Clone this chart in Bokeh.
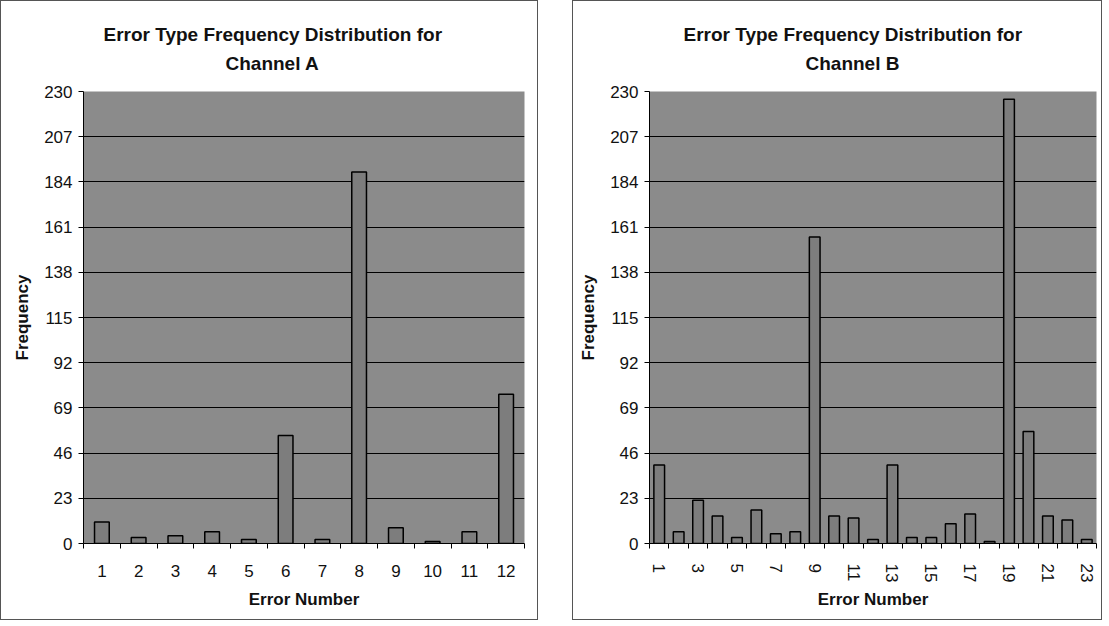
from bokeh.plotting import figure
from bokeh.models import FixedTicker, Title, Range1d
from bokeh.layouts import row
from bokeh.embed import file_html
from bokeh.resources import INLINE

# ---- data ----
title_line1 = "Error Type Frequency Distribution for"
title_a = "Channel A"
title_b = "Channel B"
x_label = "Error Number"
y_label = "Frequency"

errors_a = [1, 2, 3, 4, 5, 6, 7, 8, 9, 10, 11, 12]
freq_a = [11, 3, 4, 6, 2, 55, 2, 189, 8, 1, 6, 76]

errors_b = [1, 2, 3, 4, 5, 6, 7, 8, 9, 10, 11, 12, 13, 14, 15, 16, 17, 18, 19, 20, 21, 22, 23]
freq_b = [40, 6, 22, 14, 3, 17, 5, 6, 156, 14, 13, 2, 40, 3, 3, 10, 15, 1, 226, 57, 14, 12, 2]

labels_a = [1, 2, 3, 4, 5, 6, 7, 8, 9, 10, 11, 12]
labels_b = [1, 3, 5, 7, 9, 11, 13, 15, 17, 19, 21, 23]
y_ticks = [0, 23, 46, 69, 92, 115, 138, 161, 184, 207, 230]

FONT = "Liberation Sans"
PLOT_BG = "#8b8b8b"
BAR_FILL = "#7d7d7d"
TXT = "#111111"


def make_panel(cats, vals, labels, subtitle, width, height, bar_w,
               borders, t1_off, t2_off, vertical_labels):
    left, right, top, bottom = borders
    p = figure(width=width, height=height, output_backend="svg",
               toolbar_location=None, title=None,
               x_range=Range1d(cats[0] - 0.5, cats[-1] + 0.5),
               y_range=Range1d(0, 230),
               min_border_left=left, min_border_right=right,
               min_border_top=top, min_border_bottom=bottom,
               background_fill_color=PLOT_BG, border_fill_color="white",
               styles={"border": "1px solid #555555"})
    p.outline_line_color = None

    p.vbar(x=cats, top=vals, width=bar_w, fill_color=BAR_FILL,
           line_color="black", line_width=1.5)

    # titles (first added sits closest to the plot); a blank spacer first
    p.add_layout(Title(text=" ", text_font_size="1px", standoff=13), "above")
    p.add_layout(Title(text=subtitle, align="left", offset=t2_off,
                       text_font=FONT, text_font_size="19px",
                       text_font_style="bold", text_color=TXT,
                       standoff=4), "above")
    p.add_layout(Title(text=title_line1, align="left", offset=t1_off,
                       text_font=FONT, text_font_size="19px",
                       text_font_style="bold", text_color=TXT,
                       standoff=7), "above")

    # y axis
    p.yaxis.ticker = FixedTicker(ticks=y_ticks)
    p.yaxis.axis_label = y_label
    p.yaxis.axis_label_text_font = FONT
    p.yaxis.axis_label_text_font_size = "17px"
    p.yaxis.axis_label_text_font_style = "bold"
    p.yaxis.axis_label_text_color = TXT
    p.yaxis.axis_label_standoff = 9
    p.yaxis.major_label_text_font = FONT
    p.yaxis.major_label_text_font_size = "17px"
    p.yaxis.major_label_text_color = TXT
    p.yaxis.major_label_standoff = 6
    p.yaxis.major_tick_out = 5
    p.yaxis.major_tick_in = 0
    p.yaxis.minor_tick_line_color = None
    p.yaxis.axis_line_color = "black"
    p.yaxis.major_tick_line_color = "black"

    # x axis: labels at centres, ticks at category boundaries
    bounds = [c - 0.5 for c in cats] + [cats[-1] + 0.5]
    p.xaxis.ticker = FixedTicker(ticks=labels, minor_ticks=bounds)
    p.xaxis.major_tick_line_color = None
    p.xaxis.major_tick_out = 0
    p.xaxis.major_tick_in = 0
    p.xaxis.minor_tick_line_color = "black"
    p.xaxis.minor_tick_out = 5
    p.xaxis.minor_tick_in = 0
    p.xaxis.axis_line_color = "black"
    p.xaxis.major_label_text_font = FONT
    p.xaxis.major_label_text_font_size = "17px"
    p.xaxis.major_label_text_color = TXT
    if vertical_labels:
        p.xaxis.major_label_orientation = "vertical"
        p.xaxis.major_label_standoff = 15
        p.xaxis.axis_label_standoff = 5
    else:
        p.xaxis.major_label_standoff = 16
        p.xaxis.axis_label_standoff = 10
    p.xaxis.axis_label = x_label
    p.xaxis.axis_label_text_font = FONT
    p.xaxis.axis_label_text_font_size = "17px"
    p.xaxis.axis_label_text_font_style = "bold"
    p.xaxis.axis_label_text_color = TXT

    # grid
    p.xgrid.grid_line_color = None
    p.ygrid.ticker = FixedTicker(ticks=y_ticks)
    p.ygrid.grid_line_color = "black"
    p.ygrid.grid_line_width = 1
    return p


p1 = make_panel(errors_a, freq_a, labels_a, title_a, 538, 620, 0.4,
                (82, 15, 88, 78), 20, 142, False)
p2 = make_panel(errors_b, freq_b, labels_b, title_b, 530, 620, 0.55,
                (76, 7, 90, 78), 34, 156, True)

layout = row(p1, p2, spacing=34)

open("out.html", "w").write(file_html(layout, INLINE))
